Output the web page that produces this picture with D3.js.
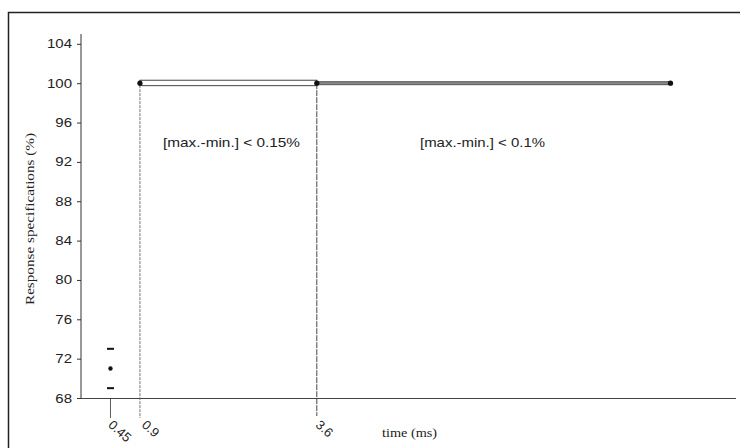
<!DOCTYPE html>
<html><head><meta charset="utf-8">
<script src="https://cdn.jsdelivr.net/npm/d3@7"></script>
<style>body{margin:0;background:#fff}svg{display:block}</style>
</head><body>
<script>
// Data
const yTicks = [68, 72, 76, 80, 84, 88, 92, 96, 100, 104];
const xTickValues = [0.45, 0.9, 3.6];
const xTickLabels = ["0.45", "0.9", "3.6"];
// band segments: [start, end, low, high]
const segStart = [0.9, 3.6];
const segEnd = [3.6, 9.0];
const segLow = [99.75, 99.85];
const segHigh = [100.3, 100.15];
const segLabels = ["[max.-min.] < 0.15%", "[max.-min.] < 0.1%"];
const markerX = [0.9, 3.6, 9.0];
const markerY = [100, 100, 100];
// early response at 0.45 ms: mean with min / max
const earlyX = [0.45];
const earlyMean = [71];
const earlyMin = [69];
const earlyMax = [73];

const W = 740, H = 448;
const SANS = "Liberation Sans, Arial, sans-serif";
const SERIF = "Liberation Serif, Times New Roman, serif";
const svg = d3.select("body").append("svg").attr("width", W).attr("height", H);
const x = d3.scaleLinear().domain([0, 10]).range([81, 736]);
const y = d3.scaleLinear().domain([68, 105]).range([398, 34]);

// outer frame
svg.append("path").attr("d", `M8.5,${H} V12.5 H${W}`).attr("fill", "none").attr("stroke", "#222").attr("stroke-width", 1.5);

// y axis
const yAxis = d3.axisLeft(y).tickValues(yTicks).tickSize(4).tickPadding(5).tickSizeOuter(0);
const gy = svg.append("g").attr("transform", "translate(81,0)").call(yAxis);
gy.select(".domain").remove();
gy.append("line").attr("x1", 0).attr("x2", 0).attr("y1", 34).attr("y2", 398).attr("stroke", "#333");
gy.selectAll(".tick text").attr("font-family", SANS).attr("font-size", 12.5).attr("fill", "#222")
  .attr("x", -9 / 1.2).attr("transform", "scale(1.2,1)");
gy.selectAll(".tick line").attr("stroke", "#333");

// x axis line
svg.append("line").attr("x1", 81).attr("x2", 736).attr("y1", 398.5).attr("y2", 398.5).attr("stroke", "#444").attr("stroke-width", 1.2);

// vertical reference lines
svg.append("line").attr("x1", x(0.45)).attr("x2", x(0.45)).attr("y1", 398).attr("y2", 418).attr("stroke", "#333").attr("stroke-width", 0.8);
svg.append("line").attr("x1", x(0.9)).attr("x2", x(0.9)).attr("y1", y(100) + 2).attr("y2", 418).attr("stroke", "#666").attr("stroke-width", 0.9).attr("stroke-dasharray", "3,1");
svg.append("line").attr("x1", x(3.6)).attr("x2", x(3.6)).attr("y1", y(100)).attr("y2", 416).attr("stroke", "#333").attr("stroke-width", 0.9).attr("stroke-dasharray", "6,1");

// x tick labels rotated
const xOff = [-3, 1, -2];
svg.selectAll(".xl").data(xTickValues).enter().append("text")
  .attr("transform", (d, i) => `translate(${x(d) + xOff[i]},${426}) rotate(42)`)
  .attr("font-family", SANS).attr("font-size", 13).attr("fill", "#222")
  .text((d, i) => xTickLabels[i]);

// axis titles
svg.append("text").attr("x", 382).attr("y", 437).attr("font-family", SERIF)
  .attr("font-size", 13).attr("fill", "#222").attr("textLength", 55).attr("lengthAdjust", "spacingAndGlyphs").text("time (ms)");
svg.append("text").attr("transform", "translate(34,219) rotate(-90)").attr("text-anchor", "middle")
  .attr("font-family", SERIF).attr("font-size", 13).attr("fill", "#222")
  .attr("textLength", 172).attr("lengthAdjust", "spacingAndGlyphs")
  .text("Response specifications (%)");

// segments
const labelX = [163, 420], labelW = [137, 125];
segStart.forEach((s, i) => {
  svg.append("rect").attr("x", x(s)).attr("y", y(segHigh[i])).attr("width", x(segEnd[i]) - x(s))
    .attr("height", y(segLow[i]) - y(segHigh[i]))
    .attr("fill", i === 0 ? "#fff" : "#888").attr("stroke", i === 0 ? "#444" : "#555").attr("stroke-width", 1);
  svg.append("text").attr("x", labelX[i]).attr("y", 147)
    .attr("font-family", SANS).attr("font-size", 13).attr("fill", "#222")
    .attr("textLength", labelW[i]).attr("lengthAdjust", "spacingAndGlyphs")
    .text(segLabels[i]);
});
svg.selectAll(".mk").data(markerX).enter().append("circle")
  .attr("cx", d => x(d)).attr("cy", (d, i) => y(markerY[i])).attr("r", 2.6).attr("fill", "#111");

// early response
earlyX.forEach((e, i) => {
  svg.append("circle").attr("cx", x(e)).attr("cy", y(earlyMean[i])).attr("r", 2.2).attr("fill", "#111");
  [earlyMin[i], earlyMax[i]].forEach(v => {
    svg.append("line").attr("x1", x(e) - 3.5).attr("x2", x(e) + 3.5).attr("y1", y(v)).attr("y2", y(v))
      .attr("stroke", "#111").attr("stroke-width", 2);
  });
});
</script>
</body></html>
